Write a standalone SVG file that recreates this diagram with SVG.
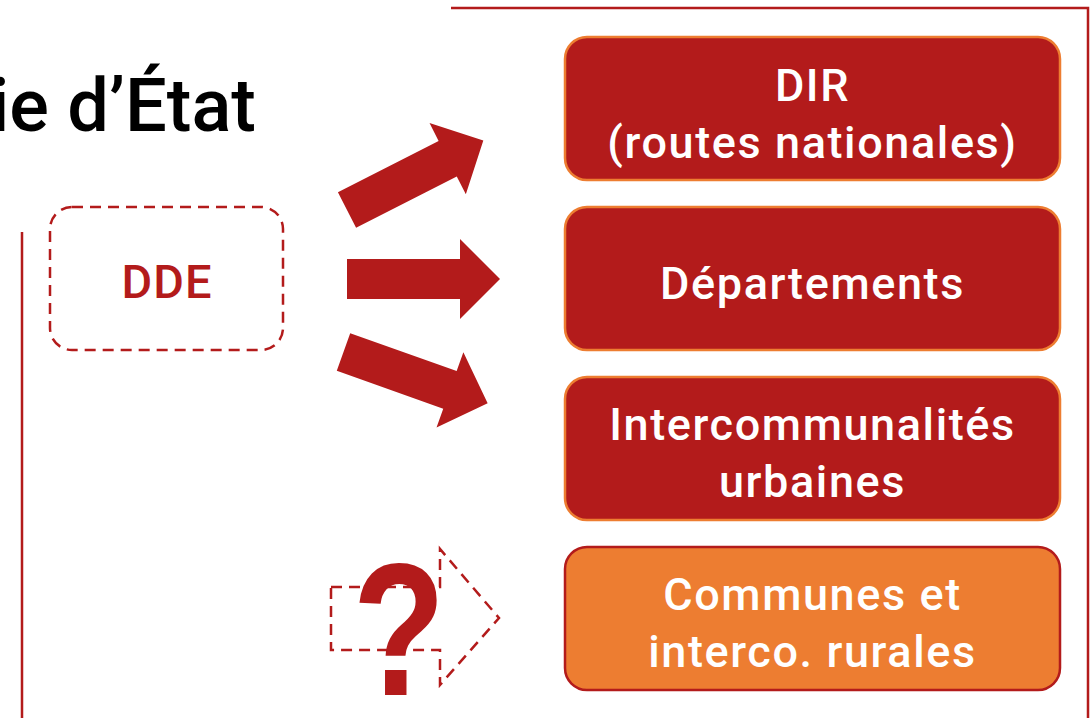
<svg xmlns="http://www.w3.org/2000/svg" width="1091" height="718" viewBox="0 0 1091 718">
<style>
.frame{fill:none;stroke:#B31B1B;stroke-width:2.5}
.red{fill:#B31B1B;stroke:#ED7D31;stroke-width:2.5}
.orange{fill:#ED7D31;stroke:#B31B1B;stroke-width:2.5}
.lbl{font-family:Roboto,"Liberation Sans",sans-serif;font-weight:500;font-size:45px;fill:#fff;text-anchor:middle;letter-spacing:1.6px}
.dash{fill:none;stroke:#B31B1B;stroke-width:2.5;stroke-dasharray:11 7}
.arrow{fill:#B31B1B}
</style>
<defs>
<polygon id="arr" points="0,-20 113,-20 113,-40 153,0 113,40 113,20 0,20"/>
</defs>
<g id="frame">
<path class="frame" d="M451,8 H1088 V718"/>
<path class="frame" d="M22,232 V718"/>
</g>
<text id="title" x="256" y="131" text-anchor="end" font-family="Roboto,'Liberation Sans',sans-serif" font-weight="500" font-size="74" fill="#000">ie d’État</text>
<g id="dde">
<rect class="dash" x="50" y="207" width="233" height="143" rx="22"/>
<text x="167" y="298" text-anchor="middle" font-family="Roboto,'Liberation Sans',sans-serif" font-weight="500" font-size="47" fill="#B31B1B" letter-spacing="1">DDE</text>
</g>
<g id="connectors" class="arrow">
<use href="#arr" transform="translate(347,210) rotate(-27)"/>
<use href="#arr" transform="translate(347,279)"/>
<use href="#arr" transform="translate(343.5,352) rotate(19.6)"/>
<path class="dash" d="M331,587 H440 V549 L499,618 L440,685 V650 H331 Z"/>
<text x="399" y="695" text-anchor="middle" font-family="'Liberation Sans',sans-serif" font-weight="bold" font-size="190" fill="#B31B1B" transform="translate(399,0) scale(0.8,1) translate(-399,0)">?</text>
</g>
<g id="dir">
<rect class="red" x="565" y="37" width="495" height="143" rx="22"/>
<text class="lbl" x="812.5" y="101">DIR</text>
<text class="lbl" x="812.5" y="158">(routes nationales)</text>
</g>
<g id="departements">
<rect class="red" x="565" y="207" width="495" height="143" rx="22"/>
<text class="lbl" x="812.5" y="299">Départements</text>
</g>
<g id="intercos">
<rect class="red" x="565" y="377" width="495" height="143" rx="22"/>
<text class="lbl" x="812.5" y="440">Intercommunalités</text>
<text class="lbl" x="812.5" y="497">urbaines</text>
</g>
<g id="communes">
<rect class="orange" x="565" y="547" width="495" height="143" rx="22"/>
<text class="lbl" x="812.5" y="610">Communes et</text>
<text class="lbl" x="812.5" y="667">interco. rurales</text>
</g>
</svg>
